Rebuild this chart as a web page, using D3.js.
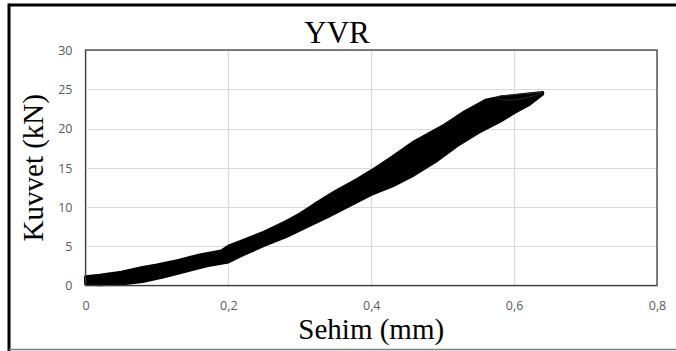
<!DOCTYPE html>
<html>
<head>
<meta charset="utf-8">
<script src="https://cdn.jsdelivr.net/npm/d3@7/dist/d3.min.js"></script>
<style>
html,body{margin:0;padding:0;background:#fff;}
svg{display:block;}
.serif{font-family:"Liberation Serif","DejaVu Serif","Noto Serif","FreeSerif","Times New Roman",Times,serif;}
.tick text{font-family:"Open Sans","Noto Sans",sans-serif;}
</style>
</head>
<body>
<svg id="chart" width="676" height="351"></svg>
<script>
// ---- data ----
const title = "YVR";
const xTitle = "Sehim (mm)";
const yTitle = "Kuvvet (kN)";
const xTicks = [0, 0.2, 0.4, 0.6, 0.8];
const xTickLabels = ["0", "0,2", "0,4", "0,6", "0,8"];
const yTicks = [0, 5, 10, 15, 20, 25, 30];
const yTickLabels = ["0", "5", "10", "15", "20", "25", "30"];

// upper boundary of the hysteresis band (loading branch), deflection mm
const upperX = [0.00, 0.02, 0.05, 0.08, 0.10, 0.13, 0.16, 0.19, 0.20, 0.22, 0.25, 0.28, 0.30, 0.32, 0.35, 0.38, 0.40, 0.43, 0.46, 0.50, 0.53, 0.56, 0.58, 0.61, 0.64];
const upperF = [1.1, 1.3, 1.7, 2.3, 2.6, 3.2, 3.9, 4.4, 5.0, 5.7, 6.8, 8.1, 9.1, 10.3, 12.0, 13.5, 14.6, 16.4, 18.3, 20.3, 22.1, 23.6, 24.0, 24.3, 24.6];
// lower boundary of the band (unloading branch), from the tip back to zero
const lowerX = [0.64, 0.62, 0.60, 0.58, 0.55, 0.52, 0.49, 0.46, 0.43, 0.40, 0.37, 0.34, 0.31, 0.28, 0.25, 0.22, 0.20, 0.17, 0.14, 0.11, 0.08, 0.05, 0.02, 0.00];
const lowerF = [24.4, 23.0, 22.0, 20.9, 19.5, 17.8, 15.8, 14.1, 12.7, 11.6, 10.2, 8.8, 7.5, 6.2, 5.1, 3.9, 3.0, 2.5, 1.8, 1.1, 0.5, 0.2, 0.1, 0.2];
// thin open loop outlines visible at the tip
const tipLoopX = [0.575, 0.60, 0.625, 0.64, 0.63, 0.61, 0.59];
const tipLoopF = [24.0, 24.3, 24.5, 24.6, 24.2, 23.8, 23.6];

// ---- layout ----
const svg = d3.select("#chart");
const margin = {left: 85.5, top: 50, right: 657, bottom: 285.5};

const x = d3.scaleLinear().domain([0, 0.8]).range([margin.left, margin.right]);
const y = d3.scaleLinear().domain([0, 30]).range([margin.bottom, margin.top]);

// outer frame
svg.append("line").attr("x1", 9).attr("x2", 676).attr("y1", 5).attr("y2", 5)
  .attr("stroke", "#000").attr("stroke-width", 3);
svg.append("line").attr("x1", 9).attr("x2", 9).attr("y1", 3.5).attr("y2", 351)
  .attr("stroke", "#000").attr("stroke-width", 3);
svg.append("line").attr("x1", 9).attr("x2", 676).attr("y1", 349.5).attr("y2", 349.5)
  .attr("stroke", "#7f7f7f").attr("stroke-width", 1.5);

// gridlines
const grid = svg.append("g");
grid.selectAll("line.h").data(yTicks).join("line")
  .attr("x1", margin.left).attr("x2", margin.right)
  .attr("y1", d => Math.round(y(d)) + 0.5).attr("y2", d => Math.round(y(d)) + 0.5)
  .attr("stroke", "#d9d9d9").attr("stroke-width", 1.2);
grid.selectAll("line.v").data(xTicks).join("line")
  .attr("y1", margin.top).attr("y2", margin.bottom)
  .attr("x1", d => Math.round(x(d)) + 0.5).attr("x2", d => Math.round(x(d)) + 0.5)
  .attr("stroke", "#d9d9d9").attr("stroke-width", 1.2);

// data band
const pts = upperX.map((v, i) => [v, upperF[i]])
  .concat(lowerX.map((v, i) => [v, lowerF[i]]));
const area = d3.line().x(d => x(d[0])).y(d => y(d[1])).curve(d3.curveLinearClosed);
svg.append("path").attr("d", area(pts))
  .attr("fill", "#000").attr("stroke", "#000").attr("stroke-width", 3)
  .attr("stroke-linejoin", "round");
const tipLine = d3.line().x(d => x(d[0])).y(d => y(d[1])).curve(d3.curveCardinalClosed);
svg.append("path").attr("d", tipLine(tipLoopX.map((v, i) => [v, tipLoopF[i]])))
  .attr("fill", "none").attr("stroke", "#333").attr("stroke-width", 0.8);

// plot border
svg.append("rect").attr("x", margin.left).attr("y", margin.top)
  .attr("width", margin.right - margin.left).attr("height", margin.bottom - margin.top)
  .attr("fill", "none").attr("stroke", "#404040").attr("stroke-width", 1.3);

// axes labels
const xAxis = d3.axisBottom(x).tickValues(xTicks).tickFormat((d, i) => xTickLabels[i]).tickSize(0).tickPadding(0);
const gx = svg.append("g").attr("transform", `translate(0,${margin.bottom + 24})`).call(xAxis);
gx.select(".domain").remove();
gx.selectAll("text").attr("dy", 0).attr("y", 0)
  .attr("font-size", 12.5).attr("fill", "#595959");

const yAxis = d3.axisLeft(y).tickValues(yTicks).tickFormat((d, i) => yTickLabels[i]).tickSize(0).tickPadding(0);
const gy = svg.append("g").attr("transform", `translate(${margin.left - 13},0)`).call(yAxis);
gy.select(".domain").remove();
gy.selectAll("text").attr("dy", "0.35em").attr("x", 0)
  .attr("font-size", 12.5).attr("fill", "#595959");

// titles
svg.append("text").attr("class", "serif").attr("x", 337).attr("y", 43).attr("text-anchor", "middle")
  .attr("font-size", 31).attr("fill", "#000").text(title);
svg.append("text").attr("class", "serif").attr("x", (margin.left + margin.right) / 2).attr("y", 339).attr("text-anchor", "middle")
  .attr("font-size", 29).attr("fill", "#000").text(xTitle);
svg.append("text").attr("class", "serif").attr("transform", `translate(43,${(margin.top + margin.bottom) / 2}) rotate(-90)`)
  .attr("text-anchor", "middle")
  .attr("font-size", 29).attr("fill", "#000").text(yTitle);
</script>
</body>
</html>
